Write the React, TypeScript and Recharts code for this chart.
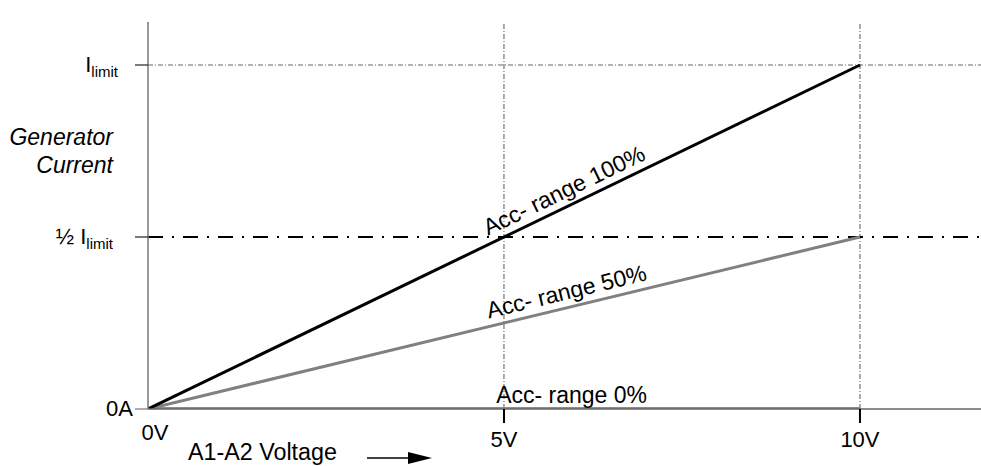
import React from 'react';
import { LineChart, Line, XAxis, YAxis, ReferenceLine, ReferenceDot } from 'recharts';

// A1-A2 voltage (V) vs generator current (fraction of I limit)
const voltage = [0, 10];
const range100 = [0, 1];
const range50 = [0, 0.5];
const range0 = [0, 0];

const xTicks = [0, 5, 10];
const xTickLabels = ['0V', '5V', '10V'];
const yTicks = [0, 0.5, 1];

const seriesNames = ['Acc- range 100%', 'Acc- range 50%', 'Acc- range 0%'];
const labelVolts = [5.94, 5.93, 5.95];

const data = voltage.map((v, i) => ({ v, full: range100[i], half: range50[i], zero: range0[i] }));
const slopes = [range100, range50, range0].map(s => (s[1] - s[0]) / (voltage[1] - voltage[0]));

const W = 981;
const H = 466;
const M = { top: 22, right: 0, left: 0, bottom: 0 };
const Y_W = 148;
const X_H = 57;
const X_MAX = 11.7;
const Y_MAX = 1.125;
const plotW = W - Y_W;
const plotH = H - M.top - X_H;
const FONT = '"Liberation Sans", Arial, Helvetica, sans-serif';

// on-screen angle of a line with a given slope
const angleOf = (slope: number) =>
  (-Math.atan((slope * plotH / Y_MAX) / (plotW / X_MAX)) * 180) / Math.PI;

const XTick = (props: any) => {
  const { x, y, payload } = props;
  const label = xTickLabels[xTicks.indexOf(payload.value)];
  if (payload.value === 0) {
    return (
      <text x={x + 7} y={y + 31} textAnchor="middle" fontSize={22} fontFamily={FONT} fill="#000">
        {label}
      </text>
    );
  }
  return (
    <g>
      <line x1={x} x2={x} y1={y} y2={y + 14} stroke="#000" strokeWidth={2} />
      <text x={x} y={y + 38} textAnchor="middle" fontSize={22} fontFamily={FONT} fill="#000">
        {label}
      </text>
    </g>
  );
};

const YTick = (props: any) => {
  const { x, y, payload } = props;
  const v = payload.value;
  let text: React.ReactNode;
  let right = x - 15;
  let tickColor = '#777';
  if (v === 0) {
    text = '0A';
  } else if (v === 0.5) {
    right = x - 35;
    tickColor = '#222';
    text = (
      <>
        ½ I<tspan fontSize={15} dy={5}>limit</tspan>
      </>
    );
  } else {
    right = x - 30;
    tickColor = '#222';
    text = (
      <>
        I<tspan fontSize={15} dy={5}>limit</tspan>
      </>
    );
  }
  return (
    <g>
      <line x1={x - 13} x2={x} y1={y} y2={y} stroke={tickColor} strokeWidth={1.2} />
      <text x={right} y={y + 7} textAnchor="end" fontSize={22} fontFamily={FONT} fill="#000">
        {text}
      </text>
    </g>
  );
};

const SlopeLabel = (props: any) => {
  const { viewBox, caption, tilt, lift } = props;
  const cx = viewBox.x + viewBox.width / 2;
  const cy = viewBox.y + viewBox.height / 2;
  return (
    <text
      x={cx}
      y={cy}
      dy={-lift}
      transform={`rotate(${tilt} ${cx} ${cy})`}
      textAnchor="middle"
      fontSize={23}
      fontFamily={FONT}
      fill="#000"
    >
      {caption}
    </text>
  );
};

const YTitle = (props: any) => {
  const { viewBox } = props;
  const x = viewBox.x + viewBox.width - 35;
  return (
    <g fontFamily={FONT} fontSize={23} fontStyle="italic" fill="#000">
      <text x={x} y={145} textAnchor="end">Generator</text>
      <text x={x} y={173} textAnchor="end">Current</text>
    </g>
  );
};

const XTitle = (props: any) => {
  const { viewBox } = props;
  const x0 = viewBox.x;
  const y0 = viewBox.y;
  return (
    <g>
      <text x={x0 + 40} y={y0 + 51} fontSize={23.3} fontFamily={FONT} fill="#000">
        A1-A2 Voltage
      </text>
      <line x1={x0 + 219} x2={x0 + 262} y1={y0 + 49} y2={y0 + 49} stroke="#000" strokeWidth={1.5} />
      <polygon
        points={`${x0 + 260},${y0 + 43} ${x0 + 284},${y0 + 49} ${x0 + 260},${y0 + 55}`}
        fill="#000"
      />
    </g>
  );
};

export default function App() {
  return (
    <div style={{ position: 'absolute', left: 0, top: 0, width: W, height: H, background: '#fff' }}>
      <LineChart width={W} height={H} data={data} margin={M}>
        <XAxis
          dataKey="v"
          type="number"
          domain={[0, X_MAX]}
          ticks={xTicks}
          allowDataOverflow
          height={X_H}
          tickSize={0}
          tickMargin={0}
          tickLine={false}
          tick={<XTick />}
          axisLine={{ stroke: '#666', strokeWidth: 1.5 }}
          label={{ content: <XTitle /> } as any}
        />
        <YAxis
          type="number"
          domain={[0, Y_MAX]}
          ticks={yTicks}
          allowDataOverflow
          width={Y_W}
          tickSize={0}
          tickMargin={0}
          tickLine={false}
          tick={<YTick />}
          axisLine={{ stroke: '#777', strokeWidth: 1.5 }}
          label={{ content: <YTitle /> } as any}
        />
        <ReferenceLine x={5} stroke="#555" strokeWidth={1} strokeDasharray="5 2 1 2" />
        <ReferenceLine x={10} stroke="#555" strokeWidth={1} strokeDasharray="5 2 1 2" />
        <ReferenceLine y={1} stroke="#666" strokeWidth={1} strokeDasharray="5 2 1 2" />
        <ReferenceLine y={0.5} stroke="#000" strokeWidth={2} strokeDasharray="15 9 2 9" />
        <Line dataKey="zero" stroke="#8c8c8c" strokeWidth={4} dot={false} isAnimationActive={false} />
        <Line dataKey="half" stroke="#808080" strokeWidth={3} dot={false} isAnimationActive={false} />
        <Line dataKey="full" stroke="#000" strokeWidth={3} dot={false} isAnimationActive={false} />
        {seriesNames.map((name, i) => (
          <ReferenceDot
            key={name}
            x={labelVolts[i]}
            y={labelVolts[i] * slopes[i]}
            r={1}
            fill="none"
            stroke="none"
            label={<SlopeLabel caption={name} tilt={angleOf(slopes[i])} lift={i === 2 ? 6 : 8} />}
          />
        ))}
      </LineChart>
    </div>
  );
}
